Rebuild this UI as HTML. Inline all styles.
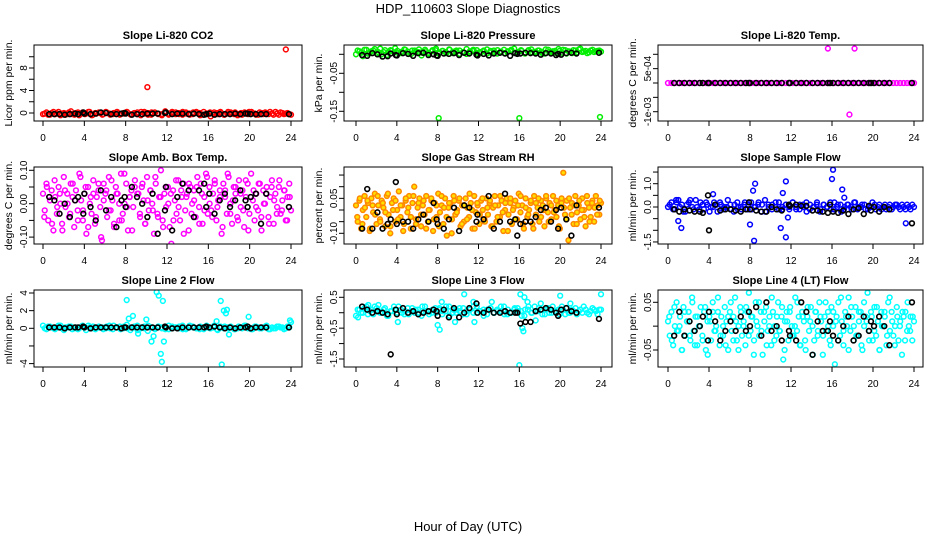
<!DOCTYPE html>
<html><head><meta charset="utf-8"><style>
html,body{margin:0;padding:0;background:#fff;}
svg{display:block;font-family:"Liberation Sans",sans-serif;}
</style></head><body>
<svg id="c" width="936" height="540" viewBox="0 0 936 540" xmlns="http://www.w3.org/2000/svg">
<text x="468" y="13" text-anchor="middle" font-size="13">HDP_110603  Slope Diagnostics</text>
<text x="468" y="531" text-anchor="middle" font-size="13">Hour of Day (UTC)</text>
</svg>
<script>
// ---- shared sample hours for the black (reference) series ----
const blackHours=[0.6,1.1,1.6,2.1,2.6,3.1,3.4,3.9,4.0,4.6,5.1,5.6,6.1,6.6,7.1,7.6,7.9,8.0,8.6,9.1,9.6,10.1,10.6,11.1,11.8,11.9,12.5,13.0,13.5,14.1,14.6,15.1,15.6,15.8,16.1,16.6,17.1,17.6,18.1,18.6,19.1,19.6,19.8,20.1,20.6,21.1,21.6,23.8];
// ---- panel 1: CO2 ----
const co2Vals=[-0.2,0.1,-0.3,0.2,-0.1,-0.4,0.0,-0.2,0.3,-0.3,0.1,-0.1,-0.2,0.2,-0.4,0.0,0.1,-0.3,0.2,-0.1,-0.2,0.1,-0.3,0.0,0.2,-0.2,-0.1,0.1,-0.4,0.2,0.0,-0.3,0.1,-0.1,-0.2,0.3,-0.3,0.0,0.1,-0.2,0.2,-0.1,-0.3,0.1,0.0,-0.4,0.2,-0.1,-0.6,0.1,-0.2,0.0,-0.3,0.2,-0.1,0.1,-0.2,-0.3,0.0,0.2,-0.1,-0.3,0.1,-0.2,0.0,0.2,-0.3,-0.1,0.1,-0.2,0.0,-0.3];
const co2Vals2=[-0.1,-0.3,0.0,-0.2,0.2,-0.1,-0.3,0.1,-0.2,0.0,-0.4,0.1,-0.1,0.2,-0.3,-0.1,0.0,-0.2,0.1,-0.3,0.0,0.2,-0.2,-0.1,0.1,-0.3,0.0,-0.2,0.2,-0.1,-0.3,0.1,0.0,-0.2,-0.4,0.1,-0.1,0.2,-0.2,0.0,-0.3,0.1,-0.1,-0.2,0.2,0.0,-0.3,-0.1,0.1,-0.2,0.0,0.2,-0.3,-0.1,0.1,-0.2,-0.4,0.0,0.1,-0.2,0.2,-0.1,-0.3,0.0,0.1,-0.2,-0.1,0.2,-0.3,0.0,-0.1,-0.2];
const co2Black=[-0.2,-0.2,-0.2,-0.3,-0.2,-0.1,-0.2,0.1,-0.1,-0.2,-0.1,0.1,0.0,-0.2,-0.2,-0.1,0.0,-0.1,-0.3,-0.2,-0.2,-0.1,-0.1,-0.1,0.0,0.1,-0.2,-0.1,-0.1,-0.2,-0.1,-0.2,-0.3,-0.2,-0.1,-0.3,-0.2,-0.2,-0.2,-0.1,-0.2,-0.1,-0.1,-0.2,-0.2,-0.2,-0.2,-0.2];
const co2OutHours=[10.1,23.5];
const co2OutVals=[4.6,11.3];
// ---- panel 2: pressure ----
const presVals=[0.000,0.008,-0.005,0.012,0.004,0.010,0.002,0.015,0.006,-0.002,0.011,0.005,0.009,0.003,0.013,0.007,0.001,0.010,0.006,-0.003,0.012,0.004,0.008,0.011,0.002,0.009,0.006,0.013,0.003,0.007,0.010,0.005,0.001,0.008,0.012,0.004,0.006,0.010,0.002,0.009,0.005,0.011,0.007,0.003,0.008,0.012,0.004,0.006,0.009,0.002,0.011,0.005,0.007,0.010,0.003,0.013,0.006,0.008,0.004,0.009,0.012,0.002,0.007,0.011,0.005,0.015,0.008,0.003,0.010,0.006,0.009,0.007];
const presVals2=[0.010,0.004,0.012,0.002,0.008,0.014,0.006,0.000,0.011,0.005,0.009,0.016,0.003,0.007,0.012,0.001,0.010,0.006,0.013,0.004,0.008,0.002,0.011,0.015,0.005,0.009,0.003,0.012,0.007,0.010,0.001,0.006,0.014,0.004,0.009,0.011,0.003,0.008,0.013,0.005,0.010,0.002,0.007,0.012,0.006,0.009,0.015,0.004,0.011,0.003,0.008,0.013,0.005,0.010,0.007,0.002,0.012,0.006,0.009,0.014,0.004,0.011,0.008,0.003,0.010,0.013,0.006,0.009,0.005,0.012,0.008,0.010];
const presBlack=[-0.002,-0.004,0.003,0.000,-0.006,-0.005,0.002,-0.002,-0.003,0.003,0.001,-0.004,0.003,0.004,-0.002,0.000,-0.003,-0.004,0.002,0.001,0.003,-0.002,0.004,0.002,-0.001,-0.003,0.001,-0.003,0.002,0.004,0.002,-0.004,0.003,0.001,0.002,0.004,0.003,0.002,-0.001,0.003,0.002,-0.002,0.001,-0.001,0.003,0.004,0.002,0.004];
const presOutHours=[8.1,16.0,23.9];
const presOutVals=[-0.168,-0.168,-0.165];
// ---- panel 3: Li-820 temp ----
const tempVals=[0,0,0,0,0,0,0,0,0,0,0,0,0,0,0,0,0,0,0,0,0,0,0,0,0,0,0,0,0,0,0,0,0,0,0,0,0,0,0,0,0,0,0,0,0,0,0,0,0,0,0,0,0,0,0,0,0,0,0,0,0,0,0,0,0,0,0,0,0,0,0,0];
const tempBlack=[0,0,0,0,0,0,0,0,0,0,0,0,0,0,0,0,0,0,0,0,0,0,0,0,0,0,0,0,0,0,0,0,0,0,0,0,0,0,0,0,0,0,0,0,0,0,0,0];
const tempOutHours=[15.6,18.2,17.7];
const tempOutVals=[0.0012,0.0012,-0.0011];
// ---- panel 4: amb box temp ----
const ambVals=[0.03,-0.02,0.06,-0.05,0.01,0.04,-0.08,0.02,-0.03,0.05,0.00,-0.06,0.08,-0.01,0.03,-0.04,0.06,0.02,-0.07,0.04,-0.02,0.09,0.01,-0.05,0.03,-0.09,0.05,0.00,-0.03,0.07,-0.06,0.02,0.04,-0.01,-0.11,0.06,0.03,-0.04,0.08,-0.02,0.01,-0.07,0.05,0.03,-0.05,0.09,-0.03,0.00,0.06,-0.08,0.02,0.04,-0.01,0.07,-0.13,0.03,-0.04,0.05,0.01,-0.06,0.08,-0.02,0.04,0.00,-0.09,0.06,-0.03,0.02,0.10,-0.05,0.03,-0.01,0.05,-0.07,-0.12,0.04,0.01,-0.03,0.07,-0.05,0.02,0.06,-0.02,0.03,-0.08,0.05,0.00,0.04,-0.04,0.08,-0.01,0.06,-0.06,0.02,0.09,-0.03,0.05,-0.02,0.03,0.07,-0.05,0.01,0.04,-0.09,0.06,0.02,-0.03,0.08,0.00,-0.06,0.05,0.03,-0.04,0.07,-0.01,0.04,-0.07,0.02,0.06,-0.03,0.09,0.01,-0.05,0.03,-0.02,0.06,-0.08,0.04,0.00,0.05,-0.04,0.02,0.07,-0.06,0.03,-0.01,0.05,-0.03,0.01,0.04,-0.05,0.02,0.06,-0.02];
const ambVals2=[-0.04,0.05,0.02,-0.06,0.07,-0.01,0.03,-0.08,0.04,0.00,-0.03,0.06,0.01,-0.05,0.08,-0.02,0.05,-0.07,0.02,0.03,-0.04,0.06,-0.10,0.01,0.04,-0.02,0.07,-0.06,0.03,0.00,-0.05,0.09,-0.01,0.02,-0.08,0.05,0.03,-0.03,0.06,-0.06,0.01,0.04,-0.02,0.08,-0.04,0.02,-0.07,0.05,0.00,0.03,-0.05,0.07,-0.01,0.04,-0.09,0.02,0.06,-0.03,0.01,0.05,-0.06,0.03,-0.02,0.08,0.00,-0.04,0.06,-0.01,0.02,-0.07,0.04,0.09,-0.03,0.01,0.05,-0.05,0.03,-0.02,0.07,-0.08,0.02,0.04,-0.01,0.06,-0.04,0.00,0.03,-0.06,0.05,0.01,-0.03,0.07,-0.02,0.04,-0.05,0.02];
const ambBlack=[0.02,0.01,-0.03,0.00,-0.04,0.01,0.02,-0.03,0.03,-0.01,-0.05,0.04,-0.02,0.02,-0.07,0.01,0.02,-0.01,0.05,0.02,0.00,-0.04,0.03,-0.09,-0.02,0.05,-0.08,0.02,0.06,0.04,-0.04,0.04,0.06,-0.01,0.03,-0.03,0.01,0.03,-0.01,0.01,0.04,0.01,-0.01,0.02,0.03,-0.06,0.03,-0.01];
// ---- panel 5: gas stream RH ----
const rhVals=[0.02,-0.05,0.04,-0.08,0.00,0.06,-0.03,0.03,-0.09,0.05,-0.01,0.07,-0.06,0.02,-0.04,0.04,0.01,-0.07,0.06,-0.02,-0.10,0.03,0.05,-0.05,0.00,0.08,-0.03,0.02,-0.06,0.04,-0.01,0.06,-0.08,0.03,0.10,-0.04,0.01,0.05,-0.07,0.02,-0.02,0.06,-0.05,0.00,0.04,-0.09,0.03,-0.03,0.07,-0.01,0.02,-0.06,0.05,-0.11,0.01,0.03,-0.04,0.06,-0.02,0.00,0.04,-0.07,0.02,-0.05,0.05,0.01,-0.03,0.03,-0.08,0.06,-0.01,0.02,-0.06,0.04,0.00,-0.04,0.05,-0.02,0.03,-0.07,0.01,0.06,-0.05,0.02,-0.03,0.04,-0.09,0.00,0.05,-0.02,0.03,-0.06,0.01,0.04,-0.04,0.07,-0.01,0.02,-0.08,0.05,-0.03,0.00,0.03,-0.06,0.06,-0.02,0.01,-0.05,0.04,0.02,-0.07,0.05,-0.01,0.03,-0.04,0.06,0.00,-0.03,0.02,-0.08,0.05,0.16,-0.02,0.04,-0.13,0.01,0.03,-0.06,0.06,-0.01,0.02,-0.04,0.05,0.00,-0.07,0.03,0.01,-0.03,0.04,-0.05,0.06,0.02,-0.02,0.03];
const rhVals2=[-0.03,0.05,-0.06,0.01,0.04,-0.08,0.02,-0.02,0.06,-0.05,0.03,-0.01,0.07,-0.07,0.00,0.04,-0.04,0.02,-0.09,0.05,0.01,-0.03,0.06,-0.06,0.03,-0.02,0.04,-0.08,0.00,0.05,-0.04,0.02,-0.07,0.06,0.01,-0.03,0.03,-0.10,0.04,-0.01,0.05,-0.06,0.02,-0.04,0.07,0.00,-0.08,0.03,-0.02,0.05,-0.05,0.01,0.04,-0.07,0.02,-0.03,0.06,-0.01,0.03,-0.09,0.05,0.00,-0.04,0.02,0.06,-0.06,0.01,-0.02,0.04,-0.08,0.03,0.05,-0.03,0.00,0.06,-0.05,0.02,-0.01,0.04,-0.07,0.03,0.01,-0.04,0.05,-0.02,0.02,-0.06,0.04,0.00,-0.03,0.06,-0.05,0.03,0.01,-0.02,0.04];
const rhBlack=[-0.08,0.09,-0.08,-0.01,-0.08,-0.06,-0.04,0.12,-0.06,-0.05,-0.05,-0.08,-0.04,-0.02,-0.05,0.03,-0.04,-0.06,-0.08,-0.04,0.01,-0.09,0.02,0.01,-0.05,-0.02,-0.04,0.06,-0.08,-0.05,0.07,-0.05,-0.04,-0.11,-0.06,-0.05,-0.05,-0.03,0.00,0.01,-0.05,0.00,-0.08,0.01,-0.04,-0.11,0.02,0.01];
// ---- panel 6: sample flow ----
const sfVals=[0.0,0.2,-0.1,0.3,0.1,-0.2,0.2,0.0,0.3,-0.1,0.1,0.2,-0.2,0.0,0.1,0.2,-0.1,0.0,0.1,-0.2,0.2,0.0,0.1,-0.1,0.2,0.0,0.1,-0.2,0.3,0.1,-0.1,0.0,0.2,-0.1,0.1,0.0,0.2,-0.1,0.1,0.0,-0.2,0.1,0.0,0.2,-0.1,0.1,0.0,-0.1,0.2,0.1,-0.2,0.0,0.1,-0.1,0.2,0.0,0.1,-0.1,0.0,0.2,-0.1,0.1,0.0,-0.1,0.1,0.0,0.1,-0.1,0.0,0.1,-0.1,0.0];
const sfVals2=[0.1,-0.1,0.2,0.0,-0.2,0.1,0.3,-0.1,0.0,0.2,-0.1,0.1,0.0,0.2,-0.2,0.1,0.0,0.3,-0.1,0.1,0.0,-0.1,0.2,0.1,-0.1,0.0,0.2,0.1,-0.2,0.0,0.1,0.2,-0.1,0.0,0.1,-0.1,0.2,0.0,-0.1,0.1,0.2,-0.1,0.0,0.1,-0.2,0.1,0.0,0.2,-0.1,0.0,0.1,-0.1,0.1,0.0,0.2,-0.1,0.0,0.1,-0.1,0.0,0.1,0.0,-0.1,0.1,0.0,-0.1,0.1,0.0,0.1,-0.1,0.0,0.1];
const sfBlack=[-0.1,-0.2,-0.1,-0.15,-0.2,-0.2,-0.25,0.5,-1.0,0.1,-0.15,-0.1,-0.1,-0.15,-0.2,-0.1,0.2,-0.1,-0.15,-0.2,-0.2,0.0,-0.1,-0.15,0.1,0.05,0.1,0.05,0.05,-0.15,-0.15,-0.2,-0.25,0.1,-0.2,-0.25,-0.15,-0.3,-0.1,-0.05,-0.3,0.05,-0.15,0.0,-0.2,0.0,-0.1,-0.7];
const sfOutHours=[0.8,1.0,1.3,4.4,8.0,8.3,8.4,8.5,11.0,11.2,11.5,11.5,11.7,16.0,16.1,17.0,17.2,23.2];
const sfOutVals=[0.3,-0.6,-0.9,0.55,-0.75,0.7,-1.45,1.0,-0.9,0.6,1.1,-1.3,-0.45,1.2,1.6,0.75,0.4,-0.7];
// ---- panel 7: line 2 flow ----
const l2Vals=[0.3,-0.1,0.2,0.0,0.1,0.3,-0.2,0.1,0.2,0.0,-0.1,0.2,0.1,0.3,0.0,-0.1,0.2,0.1,0.0,0.3,-0.1,0.1,0.2,0.0,0.4,-0.2,0.1,0.3,0.0,0.2,-0.3,0.1,0.0,0.2,0.1,-0.1,0.3,0.0,0.1,0.2,-0.1,0.0,0.3,0.1,0.0,0.2,-0.1,0.1,0.0,0.3,-0.2,0.1,0.2,0.0,0.1,-0.1,0.2,0.0,0.3,0.1,-0.1,0.2,0.0,0.1,0.3,-0.1,0.0,0.2,0.1,-0.1,0.2,0.7];
const l2Vals2=[0.0,0.2,0.1,-0.1,0.3,0.0,0.1,0.2,-0.1,0.1,0.0,0.3,-0.2,0.1,0.2,0.0,0.1,-0.1,0.2,0.0,0.3,0.1,-0.1,0.2,0.0,0.1,0.2,-0.2,0.1,0.0,0.3,0.1,-0.1,0.2,0.0,0.1,-0.1,0.2,0.1,0.0,0.3,-0.1,0.1,0.2,0.0,-0.1,0.1,0.3,0.0,0.1,-0.1,0.2,0.0,0.1,0.2,-0.1,0.0,0.1,0.3,0.0,-0.1,0.2,0.1,0.0,0.2,-0.1,0.1,0.0,0.2,0.1,0.0,0.1];
const l2Black=[0.1,0.1,0.1,0.0,0.1,0.1,0.1,0.2,0.1,0.0,0.1,0.1,0.1,0.1,0.1,0.0,0.1,0.1,0.1,0.1,0.1,0.1,0.1,0.1,0.2,0.1,0.0,0.0,0.1,0.1,0.1,0.1,0.1,0.2,0.1,0.2,0.1,0.0,0.1,0.0,0.1,0.1,0.2,0.0,0.1,0.1,0.1,0.1];
const l2OutHours=[8.1,8.3,8.7,9.2,10.0,10.5,10.7,11.0,11.2,11.4,11.5,11.6,11.7,16.8,17.2,17.3,17.5,17.7,17.8,18.0,19.9,23.9];
const l2OutVals=[3.2,1.1,1.4,-0.6,1.0,-1.5,-0.9,4.1,3.7,-2.9,-3.8,3.1,-1.5,0.8,3.1,-4.1,2.0,1.7,2.1,-0.7,1.3,0.9];
// ---- panel 8: line 3 flow ----
const l3Vals=[-0.1,0.1,0.0,0.2,0.05,-0.05,0.15,0.0,0.1,-0.1,0.05,0.2,0.0,0.1,-0.05,0.15,0.05,0.0,0.1,-0.1,0.2,0.05,0.0,0.15,0.1,-0.05,0.05,0.2,0.0,0.1,0.15,-0.05,0.05,0.1,0.0,0.2,0.05,-0.1,0.1,0.15,0.0,0.05,0.2,-0.05,0.1,0.0,0.15,0.05,-0.1,0.1,0.2,0.0,0.05,0.15,-0.05,0.1,0.0,0.2,0.05,-0.05,0.1,0.15,0.0,0.05,-0.05,0.1,0.2,0.0,0.05,0.1,-0.05,0.1];
const l3Vals2=[0.1,0.0,0.15,-0.05,0.1,0.2,0.05,0.0,0.15,-0.1,0.05,0.1,0.2,0.0,0.05,-0.05,0.15,0.1,0.0,0.2,0.05,-0.05,0.1,0.0,0.15,0.05,0.2,-0.1,0.1,0.0,0.05,0.15,-0.05,0.1,0.2,0.0,0.05,0.1,-0.05,0.15,0.0,0.1,0.05,0.2,-0.05,0.0,0.1,0.15,0.05,-0.1,0.1,0.0,0.2,0.05,0.1,-0.05,0.15,0.0,0.05,0.1,0.2,-0.05,0.0,0.1,0.15,0.05,0.0,0.1,-0.05,0.15,0.05,0.1];
const l3Black=[0.2,0.1,0.0,0.05,0.0,-0.05,-1.35,0.1,-0.05,0.15,0.0,0.05,-0.05,0.0,0.05,0.1,0.05,-0.1,0.1,-0.15,0.15,-0.15,0.0,0.15,0.3,0.0,0.0,0.1,0.0,0.0,0.05,0.0,0.0,0.0,-0.35,-0.3,-0.3,0.05,0.1,0.15,0.1,0.0,-0.1,0.1,0.15,0.05,0.0,-0.2];
const l3OutHours=[0.2,1.2,2.2,4.1,8.0,8.2,8.4,9.7,10.6,11.5,11.6,13.3,16.0,16.1,16.3,16.4,16.5,16.8,17.6,18.1,20.0,21.0,24.0];
const l3OutVals=[-0.15,0.25,0.25,-0.3,-0.4,-0.55,0.35,-0.3,0.6,0.35,-0.3,0.35,-1.7,0.6,-0.5,-0.6,0.5,0.35,-0.25,0.3,0.55,0.3,0.6];
// ---- panel 9: line 4 flow ----
const l4Vals=[0.01,-0.02,0.03,-0.04,0.00,0.05,-0.01,0.02,-0.05,0.04,-0.02,0.01,0.03,-0.03,0.06,-0.01,0.02,-0.04,0.00,0.04,-0.02,0.03,-0.05,0.01,0.02,-0.03,0.05,-0.01,0.00,0.03,-0.04,0.02,-0.02,0.04,0.01,-0.05,0.03,-0.01,0.02,0.06,-0.03,0.00,0.04,-0.02,0.01,-0.04,0.03,0.07,-0.01,0.02,-0.03,0.05,0.00,-0.02,0.03,-0.06,0.01,0.04,-0.01,0.02,-0.04,0.03,0.00,-0.02,0.05,-0.01,0.02,-0.07,0.01,0.03,-0.03,0.04,0.00,-0.02,0.06,-0.01,0.02,-0.04,0.03,0.01,-0.05,0.02,-0.01,0.04,0.00,-0.03,0.03,-0.02,0.05,0.01,-0.06,0.02,-0.01,0.03,-0.03,0.04,0.00,-0.08,0.02,0.05,-0.02,0.01,-0.04,0.03,0.00,0.06,-0.01,0.02,-0.03,0.04,-0.02,0.01,0.03,-0.05,0.00,0.02,0.07,-0.01,0.03,-0.03,0.04,-0.02,0.01,-0.05,0.03,0.00,0.02,-0.04,0.05,-0.01,0.03,-0.02,0.00,0.04,-0.03,0.01,-0.06,0.02,0.03,-0.01,0.00,0.02,-0.03,0.01];
const l4Vals2=[0.02,-0.03,0.04,-0.01,0.00,-0.05,0.03,0.01,-0.02,0.05,-0.04,0.02,0.00,-0.03,0.04,-0.06,0.01,0.03,-0.01,0.06,-0.02,0.00,-0.04,0.02,0.05,-0.03,0.01,-0.05,0.03,0.00,0.04,-0.02,0.02,-0.06,0.01,0.05,-0.01,0.03,-0.04,0.00,0.06,-0.03,0.02,-0.01,0.04,-0.05,0.01,0.03,-0.02,0.00,0.05,-0.04,0.02,-0.03,0.04,0.01,-0.06,0.03,-0.01,0.02,-0.02,0.05,0.00,-0.04,0.03,0.01,-0.03,0.06,-0.01,0.02,-0.05,0.04,0.00,-0.02,0.03,-0.04,0.05,0.01,-0.03,0.02,-0.01,0.04,-0.05,0.00,0.03,-0.02,0.06,0.01,-0.04,0.02,0.00,0.03,-0.03,0.05,-0.01,0.02];
const l4Black=[-0.02,0.03,-0.02,0.01,-0.01,0.00,0.02,-0.03,0.03,0.01,-0.03,-0.01,0.01,-0.01,0.02,-0.01,0.03,0.00,0.04,-0.02,0.05,-0.01,0.00,-0.03,-0.01,-0.02,-0.03,0.05,0.03,-0.06,0.01,-0.01,-0.01,0.01,-0.02,-0.03,0.00,0.02,-0.03,-0.02,0.02,-0.01,0.01,0.00,0.02,0.00,-0.04,0.05];
// ---- tick values / labels ----
const xTicks=[0,4,8,12,16,20,24];
const p1Ticks=[0,2,4,6,8,10];          const p1Labels=["0","","4","","8",""];
const p2Ticks=[0,-0.05,-0.10,-0.15];   const p2Labels=["","-0.05","","-0.15"];
const p3Ticks=[0.001,0.0005,0,-0.0005,-0.001]; const p3Labels=["","5e-04","","","-1e-03"];
const p4Ticks=[0.10,0.05,0,-0.05,-0.10]; const p4Labels=["0.10","","0.00","","-0.10"];
const p5Ticks=[0.15,0.10,0.05,0,-0.05,-0.10]; const p5Labels=["","","0.05","","","-0.10"];
const p6Ticks=[1.5,1.0,0.5,0,-0.5,-1.0,-1.5]; const p6Labels=["","1.0","","0.0","","","-1.5"];
const p7Ticks=[4,2,0,-2,-4];           const p7Labels=["4","2","0","","-4"];
const p8Ticks=[0.5,0,-0.5,-1.0,-1.5];  const p8Labels=["0.5","","-0.5","","-1.5"];
const p9Ticks=[0.05,0,-0.05];          const p9Labels=["0.05","","-0.05"];

const NS="http://www.w3.org/2000/svg";
const svg=document.getElementById('c');
function mk(tag,attrs,parent){const e=document.createElementNS(NS,tag);for(const k in attrs)e.setAttribute(k,attrs[k]);(parent||svg).appendChild(e);return e;}

const cols=[{l:34,r:302,h0:43,h24:291},{l:344,r:612,h0:356,h24:601},{l:658,r:923,h0:668,h24:914}];
const rows=[{t:45,b:121},{t:167,b:244},{t:290,b:367}];

const panels=[
 {name:"co2",title:"Slope Li-820 CO2",ylab:"Licor ppm per min.",c:0,r:0,v0:0,p0:113,v1:8,p1:68,col:"#ff0000",fill:"none",vals:co2Vals,vals2:co2Vals2,blk:co2Black,oh:co2OutHours,ov:co2OutVals,ticks:p1Ticks,labels:p1Labels},
 {name:"pressure",title:"Slope Li-820 Pressure",ylab:"kPa per min.",c:1,r:0,v0:0,p0:54.3,v1:-0.15,p1:111.3,col:"#00ee00",fill:"none",vals:presVals,vals2:presVals2,blk:presBlack,oh:presOutHours,ov:presOutVals,ticks:p2Ticks,labels:p2Labels},
 {name:"li820-temp",title:"Slope Li-820 Temp.",ylab:"degrees C per min.",c:2,r:0,v0:0,p0:83,v1:0.001,p1:54.3,col:"#ff00ff",fill:"none",vals:tempVals,vals2:[],blk:tempBlack,oh:tempOutHours,ov:tempOutVals,ticks:p3Ticks,labels:p3Labels},
 {name:"amb-box-temp",title:"Slope Amb. Box Temp.",ylab:"degrees C per min.",c:0,r:1,v0:0,p0:203.7,v1:0.1,p1:170.3,col:"#ff00ff",fill:"none",vals:ambVals,vals2:ambVals2,blk:ambBlack,oh:[],ov:[],ticks:p4Ticks,labels:p4Labels},
 {name:"gas-stream-rh",title:"Slope Gas Stream RH",ylab:"percent per min.",c:1,r:1,v0:0,p0:210,v1:-0.1,p1:233.3,col:"#ff8800",fill:"#ffe000",vals:rhVals,vals2:rhVals2,blk:rhBlack,oh:[],ov:[],ticks:p5Ticks,labels:p5Labels},
 {name:"sample-flow",title:"Slope Sample Flow",ylab:"ml/min per min.",c:2,r:1,v0:0,p0:207,v1:1.0,p1:183.7,col:"#0000ff",fill:"none",vals:sfVals,vals2:sfVals2,blk:sfBlack,oh:sfOutHours,ov:sfOutVals,ticks:p6Ticks,labels:p6Labels},
 {name:"line2-flow",title:"Slope Line 2 Flow",ylab:"ml/min per min.",c:0,r:2,v0:0,p0:328.3,v1:4,p1:293,col:"#00ffff",fill:"none",vals:l2Vals,vals2:l2Vals2,blk:l2Black,oh:l2OutHours,ov:l2OutVals,ticks:p7Ticks,labels:p7Labels},
 {name:"line3-flow",title:"Slope Line 3 Flow",ylab:"ml/min per min.",c:1,r:2,v0:0.5,p0:297.3,v1:-1.5,p1:359,col:"#00ffff",fill:"none",vals:l3Vals,vals2:l3Vals2,blk:l3Black,oh:l3OutHours,ov:l3OutVals,ticks:p8Ticks,labels:p8Labels},
 {name:"line4-flow",title:"Slope Line 4 (LT) Flow",ylab:"ml/min per min.",c:2,r:2,v0:0.05,p0:302.3,v1:-0.05,p1:350,col:"#00ffff",fill:"none",vals:l4Vals,vals2:l4Vals2,blk:l4Black,oh:[],ov:[],ticks:p9Ticks,labels:p9Labels}
];

panels.forEach(P=>{
  const C=cols[P.c],R=rows[P.r];
  const xs=h=>C.h0+(C.h24-C.h0)*h/24;
  const ys=v=>P.p0+(v-P.v0)*(P.p1-P.p0)/(P.v1-P.v0);
  const g=mk('g',{});
  
  
  const t=mk('text',{x:(C.l+C.r)/2,y:R.t-6,'text-anchor':'middle','font-size':11,'font-weight':'bold'},g);
  t.textContent=P.title;
  
  
  const yl=mk('text',{x:0,y:0,'text-anchor':'middle','font-size':10.5,transform:`translate(${C.l-22},${(R.t+R.b)/2}) rotate(-90)`},g);
  yl.textContent=P.ylab;
  
  
  const cid='clip'+P.name;
  const cp=mk('clipPath',{id:cid},g);mk('rect',{x:C.l,y:R.t,width:C.r-C.l,height:R.b-R.t},cp);
  const pts=mk('g',{'clip-path':`url(#${cid})`},g);
  const n=P.vals.length;
  P.vals.forEach((v,i)=>{
    const h=i*24/(n-1);
    const e=mk('circle',{cx:xs(h),cy:ys(v),r:2.4,fill:P.fill,stroke:P.col,'stroke-width':1.5},pts);
    
    
  });
  const n2=P.vals2.length;
  P.vals2.forEach((v,i)=>{
    const h=(i+0.5)*24/n2;
    const e=mk('circle',{cx:xs(h),cy:ys(v),r:2.4,fill:P.fill,stroke:P.col,'stroke-width':1.5},pts);
    
    
  });
  P.oh.forEach((h,i)=>{
    const e=mk('circle',{cx:xs(h),cy:ys(P.ov[i]),r:2.4,fill:P.fill,stroke:P.col,'stroke-width':1.5},pts);
    
    
  });
  P.blk.forEach((v,i)=>{
    const e=mk('circle',{cx:xs(blackHours[i]),cy:ys(v),r:2.4,fill:'none',stroke:'#000','stroke-width':1.6},pts);
    
    
  });
  const box=mk('rect',{x:C.l,y:R.t,width:C.r-C.l,height:R.b-R.t,fill:'none',stroke:'#000','stroke-width':1},g);
  
  
  xTicks.forEach(h=>{
    const x=xs(h);
    mk('line',{x1:x,x2:x,y1:R.b,y2:R.b+5,stroke:'#000'},g);
    const tl=mk('text',{x:x,y:R.b+20,'text-anchor':'middle','font-size':10},g);
    tl.textContent=h;
    
    
  });
  P.ticks.forEach((v,i)=>{
    const y=ys(v);
    mk('line',{x1:C.l-5,x2:C.l,y1:y,y2:y,stroke:'#000'},g);
    if(P.labels[i]){
      const tl=mk('text',{x:0,y:0,'text-anchor':'middle','font-size':10,transform:`translate(${C.l-7},${y}) rotate(-90)`},g);
      tl.textContent=P.labels[i];
      
      
    }
  });
});
</script>
</body></html>
